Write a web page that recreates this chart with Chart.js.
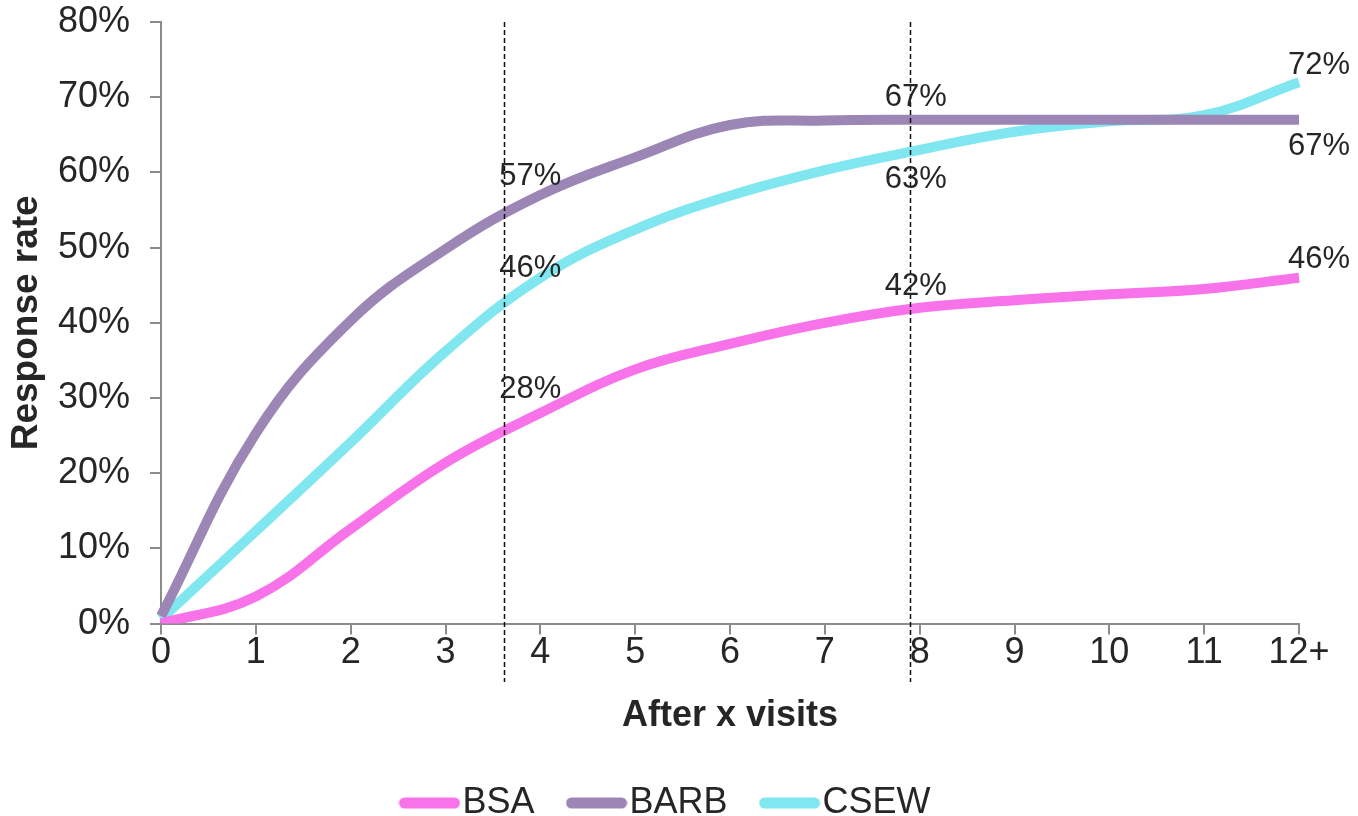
<!DOCTYPE html>
<html>
<head>
<meta charset="utf-8">
<title>Response rate by number of visits</title>
<script src="https://cdn.jsdelivr.net/npm/chart.js@4/dist/chart.umd.min.js"></script>
<style>
  html, body { margin: 0; padding: 0; background: #ffffff; }
  #wrap { width: 1358px; height: 816px; }
</style>
</head>
<body>
<div id="wrap"><canvas id="chart" width="1358" height="816"></canvas></div>
<script>
// Number of visits (categories on the x axis)
const visits = ['0', '1', '2', '3', '4', '5', '6', '7', '8', '9', '10', '11', '12+'];

// Cumulative response rate (%) after x visits, per survey
const bsa  = [0, 3.6, 12.6, 21.4, 28, 33.8, 37.2, 40, 42, 43, 43.8, 44.5, 46];
const barb = [1, 25.3, 40.3, 49.8, 57, 62, 66.3, 66.9, 67, 67, 67, 67, 67];
const csew = [0.6, 12.3, 24.1, 36.2, 46, 52.4, 56.9, 60.3, 63, 65.4, 66.8, 67.6, 72];

// Y axis range and step (percent)
const yMax = 80;
const yStep = 10;

// Points that carry a value label
const labelledVisits = [4, 8, 12];

// Reference markers (in visits) drawn as dashed verticals
const markerVisits = [3.62, 7.9];

const FONT = '"Liberation Sans", Arial, Helvetica, sans-serif';
const TEXT = '#262626';
const AXIS = '#8c8c8c';

const series = [
  { label: 'BSA',  data: bsa,  color: '#f873e9' },
  { label: 'BARB', data: barb, color: '#9c86b5' },
  { label: 'CSEW', data: csew, color: '#80e6ef' }
];

// Label placement around each labelled point: horizontal shift per labelled visit,
// vertical shift per series (negative = above the line)
const labelDx = [-10, -4, 20];
const labelDy = {
  BSA:  [-24, -21.5, -18],
  BARB: [-19, -22, 27],
  CSEW: [-9, 30, -17]
};

// Rounded line swatch used as the legend marker
function swatch(color) {
  const c = document.createElement('canvas');
  c.width = 62; c.height = 12;
  const g = c.getContext('2d');
  g.strokeStyle = color;
  g.lineWidth = 11;
  g.lineCap = 'round';
  g.beginPath();
  g.moveTo(6, 6);
  g.lineTo(56, 6);
  g.stroke();
  return c;
}

const overlay = {
  id: 'overlay',
  afterLayout(chart) {
    // centre the legend row on the full canvas width rather than the padded box
    const lg = chart.legend;
    if (lg) { lg.left += 23; lg.right += 23; }
  },
  afterDatasetsDraw(chart) {
    const ctx = chart.ctx;
    const x = chart.scales.x;
    const y = chart.scales.y;
    const area = chart.chartArea;

    // dashed reference verticals
    ctx.save();
    ctx.strokeStyle = '#111111';
    ctx.lineWidth = 1.5;
    ctx.setLineDash([5, 3]);
    markerVisits.forEach(v => {
      const px = Math.round(x.getPixelForValue(v)) + 0.5;
      ctx.beginPath();
      ctx.moveTo(px, area.top);
      ctx.lineTo(px, 682);
      ctx.stroke();
    });
    ctx.restore();

    // value labels
    ctx.save();
    ctx.font = '31px ' + FONT;
    ctx.fillStyle = TEXT;
    ctx.textAlign = 'center';
    ctx.textBaseline = 'middle';
    chart.data.datasets.forEach(ds => {
      labelledVisits.forEach((idx, k) => {
        const v = ds.data[idx];
        const px = x.getPixelForValue(idx) + labelDx[k];
        const py = y.getPixelForValue(v) + labelDy[ds.label][k];
        ctx.fillText(Math.round(v) + '%', px, py);
      });
    });
    ctx.restore();
  }
};

new Chart(document.getElementById('chart'), {
  type: 'line',
  data: {
    labels: visits,
    datasets: series.map(s => ({
      label: s.label,
      data: s.data,
      borderColor: s.color,
      backgroundColor: s.color,
      borderWidth: 10,
      pointRadius: 0,
      pointHoverRadius: 0,
      tension: 0.4,
      fill: false
    }))
  },
  options: {
    responsive: false,
    animation: false,
    devicePixelRatio: 1,
    layout: { padding: { top: 4, right: 59, bottom: -15, left: 0 } },
    plugins: {
      tooltip: { enabled: false },
      legend: {
        position: 'bottom',
        labels: {
          usePointStyle: true,
          pointStyleWidth: 30,
          padding: 47,
          color: TEXT,
          font: { family: FONT, size: 36 },
          generateLabels(chart) {
            const items = Chart.defaults.plugins.legend.labels.generateLabels(chart);
            return items.map(it => Object.assign(it, { pointStyle: swatch(series[it.datasetIndex].color) }));
          }
        }
      }
    },
    scales: {
      x: {
        type: 'category',
        offset: false,
        grid: { display: true, drawOnChartArea: false, drawTicks: true, tickLength: 11, color: AXIS, lineWidth: 2 },
        border: { display: true, color: AXIS, width: 2 },
        ticks: { color: TEXT, font: { family: FONT, size: 36 }, padding: -3, maxRotation: 0, autoSkip: false },
        title: { display: true, text: 'After x visits', color: TEXT, font: { family: FONT, size: 36, weight: 'bold' }, padding: { top: 23, bottom: 0 } }
      },
      y: {
        min: 0,
        max: yMax,
        grid: { display: true, drawOnChartArea: false, drawTicks: true, tickLength: 11, color: AXIS, lineWidth: 2 },
        border: { display: true, color: AXIS, width: 2 },
        ticks: { stepSize: yStep, color: TEXT, font: { family: FONT, size: 36 }, padding: 20, callback: v => v + '%' },
        title: { display: true, text: 'Response rate', color: TEXT, font: { family: FONT, size: 37, weight: 'bold' }, padding: { top: 5, bottom: 0 } },
        afterFit(scale) {
          scale.width = 161;
          scale.paddingTop = 22;
        }
      }
    }
  },
  plugins: [overlay]
});
</script>
</body>
</html>
